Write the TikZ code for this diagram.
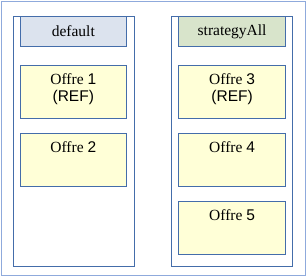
\documentclass[tikz,border=0pt]{standalone}
\usepackage{fontspec}
\setmainfont{Liberation Serif}
\newfontfamily\sansf{Liberation Sans}
\definecolor{outerline}{RGB}{143,170,220}
\definecolor{boxline}{RGB}{68,109,170}
\definecolor{offerfill}{RGB}{255,255,215}
\definecolor{hdrblue}{RGB}{220,227,238}
\definecolor{hdrgreen}{RGB}{216,228,203}
\begin{document}
\begin{tikzpicture}[x=1pt,y=-1pt,
  txt/.style={font=\fontsize{15.5}{17}\selectfont},
  colbox/.style={draw=boxline, line width=0.9pt, anchor=north west, minimum width=121pt, minimum height=250pt, inner sep=0pt},
  hdr/.style={draw=boxline, line width=0.9pt, anchor=north west, minimum height=30.6pt, inner sep=0pt, txt},
  offer/.style={draw=boxline, fill=offerfill, line width=0.9pt, anchor=north west, minimum height=53pt, inner sep=0pt},
  otext/.style={anchor=north, inner sep=0pt, align=center, txt, yshift=-8pt}
]
\useasboundingbox (0,0) rectangle (307,277);
\draw[outerline, line width=0.9pt] (1,1) rectangle (305.5,275.5);

\node[colbox] (colA) at (12.5,15.7) {};
\node[colbox] (colB) at (171,15.7) {};

\node[hdr, fill=hdrblue, minimum width=105.7pt] (default) at (20,15.7) {default};
\node[hdr, fill=hdrgreen, minimum width=106.7pt] (strategyAll) at (178.3,15.7) {strategyAll};

\node[offer, minimum width=105.7pt] (o1) at (20,65.3) {};
\node[otext] (t1) at (o1.north) {Offre {\sansf 1}\\{\sansf (REF)}};
\node[offer, minimum width=105.7pt] (o2) at (20,133.3) {};
\node[otext] (t2) at (o2.north) {Offre {\sansf 2}};

\node[offer, minimum width=106.7pt] (o3) at (178.3,65.3) {};
\node[otext] (t3) at (o3.north) {Offre {\sansf 3}\\{\sansf (REF)}};
\node[offer, minimum width=106.7pt] (o4) at (178.3,133.3) {};
\node[otext] (t4) at (o4.north) {Offre {\sansf 4}};
\node[offer, minimum width=106.7pt] (o5) at (178.3,201) {};
\node[otext] (t5) at (o5.north) {Offre {\sansf 5}};
\end{tikzpicture}
\end{document}
